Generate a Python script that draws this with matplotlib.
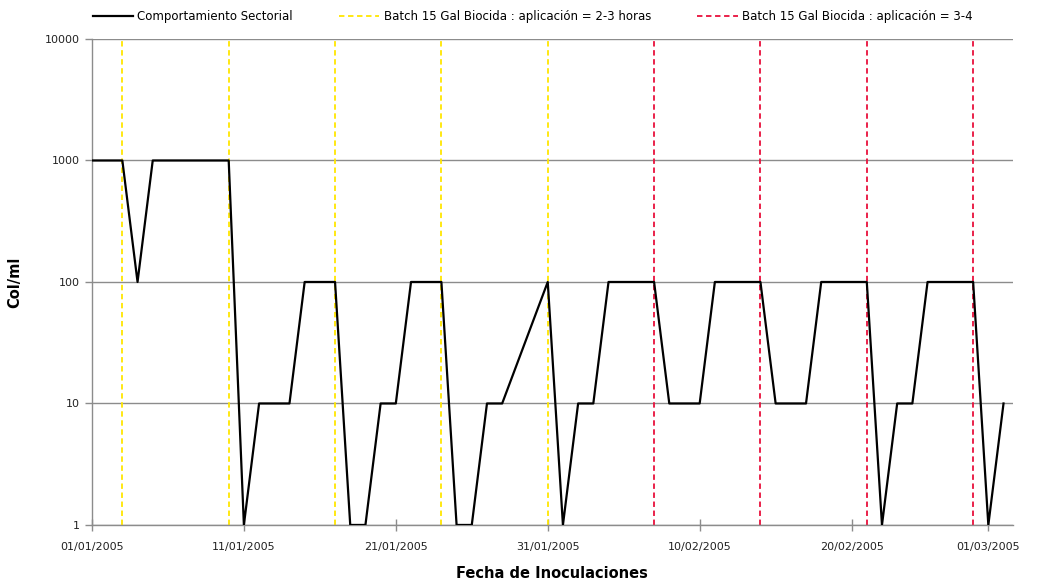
import matplotlib
matplotlib.use("Agg")
import matplotlib.pyplot as plt

# sample index (one inoculation per day) and Col/ml values
day = [0, 2, 3, 4, 9, 10, 11, 13, 14, 16, 17, 18, 19, 20, 21, 23, 24, 25, 26, 27,
       30, 31, 32, 33, 34, 37, 38, 40, 41, 44, 45, 47, 48, 51, 52, 53, 54, 55, 58, 59, 60]
colml = [1000, 1000, 100, 1000, 1000, 1, 10, 10, 100, 100, 1, 1, 10, 10, 100, 100, 1, 1, 10, 10,
         100, 1, 10, 10, 100, 100, 10, 10, 100, 100, 10, 10, 100, 100, 1, 10, 10, 100, 100, 1, 10]

# biocide applications
batch_23 = [2, 9, 16, 23, 30]
batch_34 = [37, 44, 51, 58]

tick_days = [0, 10, 20, 30, 40, 50, 59]
tick_labels = ["01/01/2005", "11/01/2005", "21/01/2005", "31/01/2005",
               "10/02/2005", "20/02/2005", "01/03/2005"]

GRID = "#8c8c8c"
YELLOW = "#ffe600"
RED = "#e8103c"

fig = plt.figure(figsize=(10.51, 5.82), dpi=100)
ax = fig.add_axes([0.0875, 0.098, 0.876, 0.835])

for i, d in enumerate(batch_23):
    ax.axvline(d, color=YELLOW, linestyle=(0, (3, 2)), linewidth=1.3,
               label="Batch 15 Gal Biocida : aplicación = 2-3 horas" if i == 0 else None, zorder=2)
for i, d in enumerate(batch_34):
    ax.axvline(d, color=RED, linestyle=(0, (3, 2)), linewidth=1.3,
               label="Batch 15 Gal Biocida : aplicación = 3-4" if i == 0 else None, zorder=2)

ax.plot(day, colml, color="black", linewidth=1.6, label="Comportamiento Sectorial", zorder=3)

ax.set_yscale("log")
ax.set_ylim(1, 10000)
ax.set_xlim(0, 60.6)
ax.set_yticks([1, 10, 100, 1000, 10000])
ax.set_yticklabels(["1", "10", "100", "1000", "10000"])
ax.minorticks_off()
ax.yaxis.grid(True, color=GRID, linewidth=1.0, zorder=1)
ax.set_xticks(tick_days)
ax.set_xticklabels(tick_labels)

for s in ["top", "right"]:
    ax.spines[s].set_visible(False)
for s in ["left", "bottom"]:
    ax.spines[s].set_color(GRID)
    ax.spines[s].set_linewidth(1.0)
ax.tick_params(axis="both", colors=GRID, labelcolor="#222222", labelsize=8, length=5, width=1.0)
ax.tick_params(axis="y", direction="out", pad=4)
ax.tick_params(axis="x", direction="inout", length=8, pad=8)

ax.set_ylabel("Col/ml", fontsize=10.5, fontweight="bold", labelpad=16)
ax.set_xlabel("Fecha de Inoculaciones", fontsize=10.5, fontweight="bold", labelpad=10)

handles, labels = ax.get_legend_handles_labels()
order = [2, 0, 1]
leg = fig.legend([handles[i] for i in order], [labels[i] for i in order],
                 loc="center left", bbox_to_anchor=(0.078, 0.971), ncol=3, frameon=False,
                 fontsize=8.5, handlelength=3.4, columnspacing=3.9, handletextpad=0.4)

fig.savefig("out.png", dpi=100)
